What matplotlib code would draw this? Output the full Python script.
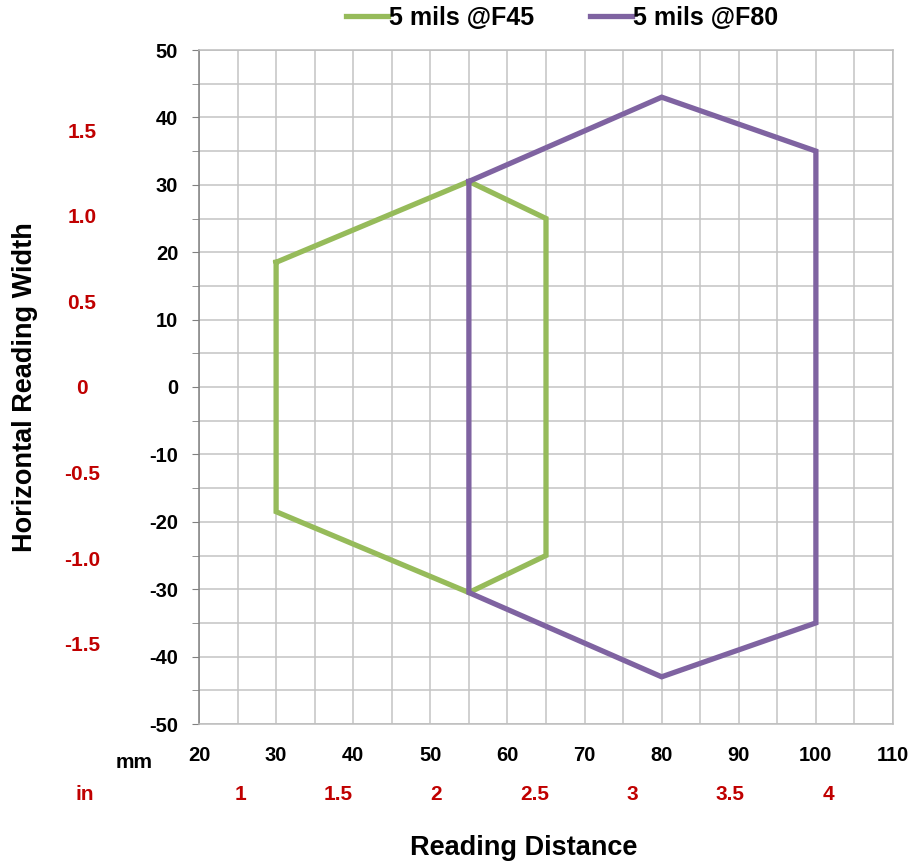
import matplotlib.pyplot as plt
from matplotlib.ticker import MultipleLocator

plt.rcParams['font.family'] = ['Liberation Sans', 'DejaVu Sans']
plt.rcParams['font.weight'] = 'bold'
plt.rcParams['axes.unicode_minus'] = False

# reading range outlines (mm)
f45_dist = [30, 55, 65, 65, 55, 30, 30]
f45_width = [18.5, 30.5, 25, -25, -30.5, -18.5, 18.5]
f80_dist = [55, 80, 100, 100, 80, 55, 55]
f80_width = [30.5, 43, 35, -35, -43, -30.5, 30.5]

mm_ticks = list(range(20, 111, 10))
width_ticks = list(range(-50, 51, 10))
in_dist_ticks = [1, 1.5, 2, 2.5, 3, 3.5, 4]
in_width_ticks = [-1.5, -1.0, -0.5, 0, 0.5, 1.0, 1.5]
in_width_labels = ['-1.5', '-1.0', '-0.5', '0', '0.5', '1.0', '1.5']

green = '#96bb5a'
purple = '#7f63a1'
red = '#c00000'

fig = plt.figure(figsize=(9.17, 8.67), dpi=100)
ax = fig.add_axes([199/917, 1 - 724/867, 694/917, 674/867])

ax.plot(f45_dist, f45_width, color=green, lw=3.8, label='5 mils @F45', solid_joinstyle='miter')
ax.plot(f80_dist, f80_width, color=purple, lw=3.8, label='5 mils @F80', solid_joinstyle='miter')

ax.set_xlim(20, 110)
ax.set_ylim(-50, 50)
ax.set_xticks(mm_ticks)
ax.set_yticks(width_ticks)
ax.xaxis.set_minor_locator(MultipleLocator(5))
ax.yaxis.set_minor_locator(MultipleLocator(5))
ax.grid(which='both', color='#c4c4c4', lw=1.1)
ax.set_axisbelow(True)
for s in ax.spines.values():
    s.set_color('#bdbdbd')
    s.set_linewidth(1.1)
ax.spines['left'].set_color('#808080')
ax.tick_params(axis='x', which='both', length=0, pad=16, labelsize=14.5)
ax.tick_params(axis='y', which='both', length=5, color='#808080', pad=10, labelsize=14.5)

# inch scales
sx = ax.secondary_xaxis(-0.105, functions=(lambda x: x / 25.4, lambda x: x * 25.4))
sx.set_xticks(in_dist_ticks)
sx.set_xticklabels([f'{v:g}' for v in in_dist_ticks])
sx.spines['bottom'].set_visible(False)
sx.tick_params(length=0, pad=0, labelsize=15, labelcolor=red)
for t in sx.get_xticklabels():
    t.set_va('center')

sy = ax.secondary_yaxis(-0.1686, functions=(lambda y: y / 25.4, lambda y: y * 25.4))
sy.set_yticks(in_width_ticks)
sy.set_yticklabels(in_width_labels)
sy.spines['left'].set_visible(False)
sy.tick_params(length=0, pad=0, labelsize=15, labelcolor=red)
for t in sy.get_yticklabels():
    t.set_ha('center')

fig.text(134/917, 1 - 763/867, 'mm', ha='center', va='center', fontsize=15)
fig.text(85/917, 1 - 795/867, 'in', ha='center', va='center', fontsize=15, color=red)
fig.text(524/917, 1 - 848/867, 'Reading Distance', ha='center', va='center', fontsize=19.5)
fig.text(25/917, 1 - 387/867, 'Horizontal Reading Width', ha='center', va='center',
         rotation=90, fontsize=19.5)

fig.legend(loc='center', bbox_to_anchor=(562/917, 1 - 18/867), ncol=2, frameon=False,
           fontsize=18, handlelength=1.7, handletextpad=0.05, columnspacing=2.2)

fig.savefig('out.png', dpi=100)
